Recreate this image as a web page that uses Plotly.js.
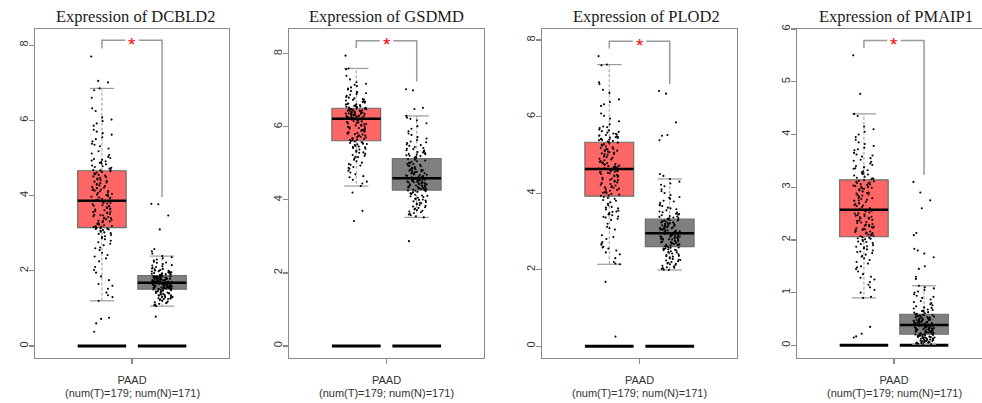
<!DOCTYPE html>
<html>
<head>
<meta charset="utf-8">
<script src="https://cdn.plot.ly/plotly-3.0.1.min.js"></script>
<style>
html,body{margin:0;padding:0;overflow:hidden;background:#fff;}
#chart{width:995px;height:403px;}
</style>
</head>
<body>
<div id="chart"></div>
<script>
// ---------- data ----------
const genes = ['DCBLD2', 'GSDMD', 'PLOD2', 'PMAIP1'];
const cancer = 'PAAD';
const numT = 179;
const numN = 171;

// box statistics (tumour / normal)
const tumorQ1  = [3.15, 5.62, 3.92, 2.06];
const tumorMed = [3.86, 6.22, 4.63, 2.57];
const tumorQ3  = [4.66, 6.51, 5.33, 3.14];
const tumorLo  = [1.20, 4.38, 2.14, 0.90];
const tumorHi  = [6.85, 7.60, 7.36, 4.39];

const normalQ1  = [1.51, 4.27, 2.60, 0.21];
const normalMed = [1.68, 4.59, 2.95, 0.385];
const normalQ3  = [1.87, 5.13, 3.32, 0.59];
const normalLo  = [1.06, 3.52, 1.99, 0.02];
const normalHi  = [2.39, 6.30, 4.37, 1.13];

// significance bracket levels
const bracketTop   = [8.13, 8.36, 7.97, 5.78];
const bracketLeft  = [7.91, 8.16, 7.78, 5.64];
const bracketRight = [3.96, 7.24, 6.85, 3.23];

// y tick values
const yTicks = [[0,2,4,6,8],[0,2,4,6,8],[0,2,4,6,8],[0,1,2,3,4,5,6]];

// sample points (read/estimated from the picture)
const dcbld2Tumor = [7.70,7.05,7.01,
6.85,6.80,6.60,6.32,6.25,6.08,6.02,5.98,5.92,5.86,5.75,5.70,5.66,5.62,5.55,5.50,5.44,5.38,5.35,5.31,5.25,5.18,5.12,5.08,5.03,5.00,4.97,4.95,4.93,4.91,4.89,4.87,4.85,4.83,4.80,4.78,4.76,4.74,4.72,4.70,4.68,4.67,
4.65,4.63,4.61,4.59,4.57,4.55,4.53,4.51,4.49,4.47,4.45,4.43,4.41,4.39,4.37,4.35,4.33,4.31,4.29,4.27,4.25,4.23,4.21,4.19,4.17,4.15,4.13,4.11,4.09,4.07,4.05,4.03,4.01,3.99,3.97,3.95,3.93,3.91,3.89,3.87,4.20,4.16,4.12,4.02,3.94,
3.85,3.83,3.81,3.79,3.77,3.75,3.73,3.71,3.69,3.67,3.65,3.63,3.61,3.59,3.57,3.55,3.53,3.51,3.49,3.47,3.45,3.43,3.41,3.39,3.37,3.35,3.33,3.31,3.29,3.27,3.25,3.23,3.21,3.19,3.17,3.16,3.80,3.72,3.64,3.56,3.48,3.40,3.32,3.24,3.18,
3.14,3.13,3.12,3.11,3.10,3.08,3.06,3.04,3.02,3.00,2.98,2.95,2.92,2.90,2.87,2.84,2.80,2.76,2.72,2.68,2.62,2.55,2.48,2.42,2.38,2.33,2.25,2.10,2.02,1.95,1.85,1.75,1.65,1.60,1.52,1.42,1.35,1.30,1.20,0.75,0.72,0.60,0.38,2.60];
const dcbld2Normal = [3.78,3.77,3.47,3.10,2.58,2.52,2.46,0.78,
2.39,2.36,2.33,2.30,2.27,2.24,2.21,2.18,2.15,2.12,2.10,2.08,2.06,2.04,2.02,2.00,1.99,1.98,1.97,1.96,1.95,1.94,1.93,1.92,1.91,1.90,1.89,1.88,2.22,2.14,2.05,2.01,1.96,1.93,1.90,
1.86,1.86,1.85,1.85,1.84,1.84,1.83,1.83,1.82,1.82,1.81,1.81,1.80,1.80,1.79,1.79,1.78,1.78,1.77,1.77,1.76,1.76,1.75,1.75,1.74,1.74,1.73,1.73,1.72,1.72,1.71,1.71,1.70,1.70,1.69,1.69,1.68,1.68,1.785,1.755,1.725,1.815,1.845,
1.67,1.67,1.66,1.66,1.65,1.65,1.64,1.64,1.63,1.63,1.62,1.62,1.61,1.61,1.60,1.60,1.59,1.59,1.58,1.58,1.57,1.57,1.56,1.56,1.55,1.55,1.54,1.54,1.53,1.53,1.52,1.52,1.51,1.51,1.675,1.645,1.615,1.585,1.555,1.525,1.635,1.575,1.545,
1.50,1.49,1.48,1.47,1.46,1.45,1.44,1.43,1.42,1.41,1.40,1.39,1.38,1.37,1.36,1.35,1.34,1.33,1.32,1.31,1.30,1.29,1.28,1.27,1.26,1.25,1.24,1.22,1.20,1.18,1.16,1.14,1.12,1.10,1.08,1.06,1.45,1.40,1.35,1.30,1.25,1.15];

const gsdmdTumor = [7.95,4.20,3.70,3.42,
7.60,7.58,7.40,7.30,7.22,7.18,7.12,7.08,7.05,7.02,6.98,6.95,6.92,6.90,6.88,6.85,6.82,6.80,6.78,6.76,6.74,6.72,6.70,6.68,6.66,6.64,6.62,6.61,6.60,6.59,6.58,6.57,6.56,6.55,6.54,6.53,6.52,6.75,6.69,6.63,7.15,
6.50,6.50,6.49,6.48,6.47,6.46,6.45,6.44,6.43,6.42,6.41,6.40,6.39,6.38,6.37,6.36,6.35,6.34,6.33,6.32,6.31,6.30,6.29,6.28,6.27,6.26,6.25,6.24,6.23,6.23,6.485,6.455,6.425,6.395,6.365,6.335,6.305,6.275,6.245,6.44,6.38,6.32,6.26,6.48,6.36,
6.21,6.19,6.17,6.15,6.13,6.11,6.09,6.07,6.05,6.03,6.01,5.99,5.97,5.95,5.93,5.91,5.89,5.87,5.85,5.83,5.81,5.79,5.77,5.75,5.73,5.71,5.69,5.67,5.65,5.63,6.20,6.16,6.12,6.08,6.04,6.00,5.96,5.92,5.88,5.84,5.80,5.76,5.72,5.68,5.64,
5.61,5.60,5.58,5.56,5.54,5.52,5.50,5.48,5.46,5.44,5.42,5.40,5.38,5.35,5.32,5.29,5.26,5.23,5.20,5.17,5.14,5.10,5.06,5.02,4.98,4.94,4.90,4.85,4.80,4.75,4.70,4.65,4.55,4.50,4.45,4.38,5.57,5.53,5.45,5.30,5.18,4.96,4.88,4.62];
const gsdmdNormal = [7.03,7.00,6.52,6.49,2.87,
6.30,6.25,6.22,6.18,6.10,6.02,5.95,5.88,5.82,5.78,5.72,5.68,5.64,5.60,5.56,5.52,5.48,5.45,5.42,5.39,5.36,5.33,5.30,5.28,5.26,5.24,5.22,5.20,5.18,5.16,5.14,5.50,5.40,5.31,5.21,5.58,5.35,5.25,
5.12,5.10,5.08,5.06,5.04,5.02,5.00,4.98,4.96,4.94,4.92,4.90,4.88,4.86,4.84,4.82,4.80,4.78,4.76,4.74,4.72,4.70,4.68,4.66,4.64,4.62,4.60,4.99,4.93,4.87,4.81,4.75,4.69,4.63,4.61,4.65,4.67,4.71,4.73,4.77,4.79,4.83,4.85,
4.58,4.57,4.56,4.55,4.54,4.53,4.52,4.51,4.50,4.49,4.48,4.47,4.46,4.45,4.44,4.43,4.42,4.41,4.40,4.39,4.38,4.37,4.36,4.35,4.34,4.33,4.32,4.31,4.30,4.29,4.28,4.27,4.575,4.545,4.515,4.485,4.455,4.425,4.395,4.365,4.335,4.305,4.285,
4.26,4.25,4.24,4.22,4.20,4.18,4.16,4.14,4.12,4.10,4.08,4.06,4.04,4.02,4.00,3.98,3.96,3.94,3.92,3.90,3.88,3.86,3.84,3.82,3.80,3.78,3.76,3.74,3.72,3.70,3.68,3.66,3.64,3.62,3.60,3.58,3.55,3.52,4.21,4.11,4.01,3.91];

const plod2Tumor = [7.58,1.68,0.25,
7.36,7.34,6.90,6.85,6.70,6.62,6.45,6.38,6.32,6.28,6.08,6.02,5.95,5.88,5.80,5.74,5.70,5.66,5.62,5.58,5.55,5.52,5.50,5.48,5.46,5.44,5.42,5.40,5.38,5.36,5.34,5.72,5.64,5.56,5.51,5.45,5.39,5.60,5.53,5.47,5.41,5.35,
5.32,5.30,5.28,5.26,5.24,5.22,5.20,5.18,5.16,5.14,5.12,5.10,5.08,5.06,5.04,5.02,5.00,4.98,4.96,4.94,4.92,4.90,4.88,4.86,4.84,4.82,4.80,4.78,4.76,4.74,4.72,4.70,4.68,4.66,4.64,5.15,5.11,5.07,5.03,4.79,4.75,4.71,4.67,4.65,4.69,
4.62,4.60,4.58,4.56,4.54,4.52,4.50,4.48,4.46,4.44,4.42,4.40,4.38,4.36,4.34,4.32,4.30,4.28,4.26,4.24,4.22,4.20,4.18,4.16,4.14,4.12,4.10,4.08,4.06,4.04,4.02,4.00,3.98,3.96,3.94,3.93,4.61,4.59,4.57,4.55,4.53,4.45,4.35,4.15,4.01,
3.90,3.88,3.85,3.82,3.80,3.76,3.72,3.68,3.64,3.60,3.57,3.54,3.51,3.48,3.45,3.42,3.39,3.36,3.33,3.30,3.20,3.12,3.08,3.05,2.90,2.85,2.80,2.72,2.65,2.60,2.55,2.50,2.45,2.40,2.30,2.20,2.16,2.14,3.62,3.52,3.44,3.38,2.68,2.58];
const plod2Normal = [6.67,6.60,5.85,5.52,5.50,5.38,4.50,4.45,
4.37,4.30,4.25,4.18,4.10,4.05,4.00,3.95,3.90,3.85,3.80,3.75,3.70,3.66,3.62,3.58,3.55,3.52,3.49,3.46,3.44,3.42,3.40,3.38,3.36,3.34,3.33,3.88,3.78,3.68,3.60,3.50,3.45,3.39,3.35,4.22,
3.31,3.30,3.29,3.28,3.27,3.26,3.25,3.24,3.23,3.22,3.21,3.20,3.19,3.18,3.17,3.16,3.15,3.14,3.13,3.12,3.11,3.10,3.09,3.08,3.07,3.06,3.05,3.04,3.03,3.02,3.01,3.00,2.99,2.98,2.97,2.96,2.955,3.285,3.215,3.145,3.075,3.005,2.965,
2.94,2.93,2.92,2.91,2.90,2.89,2.88,2.87,2.86,2.85,2.84,2.83,2.82,2.81,2.80,2.79,2.78,2.77,2.76,2.75,2.74,2.73,2.72,2.71,2.70,2.69,2.68,2.67,2.66,2.65,2.64,2.63,2.62,2.61,2.605,2.935,2.865,2.795,2.725,2.655,2.945,2.875,2.805,
2.59,2.58,2.57,2.56,2.55,2.54,2.53,2.52,2.51,2.50,2.48,2.46,2.44,2.42,2.40,2.38,2.36,2.34,2.32,2.30,2.28,2.26,2.24,2.22,2.20,2.18,2.16,2.14,2.12,2.10,2.08,2.06,2.04,2.02,2.00,1.99,2.45,2.35,2.25,2.15,2.05];

const pmaip1Tumor = [5.50,4.77,0.35,0.22,0.17,0.15,
4.39,4.35,4.15,4.10,4.05,4.00,3.95,3.90,3.85,3.82,3.78,3.75,3.72,3.70,3.65,3.62,3.58,3.55,3.52,3.50,3.48,3.45,3.42,3.40,3.38,3.35,3.32,3.30,3.28,3.26,3.24,3.22,3.20,3.18,3.16,3.15,3.60,3.36,3.25,3.17,
3.13,3.12,3.10,3.08,3.06,3.04,3.02,3.00,2.98,2.96,2.94,2.92,2.90,2.88,2.86,2.84,2.82,2.80,2.78,2.76,2.74,2.72,2.70,2.68,2.66,2.64,2.62,2.60,2.58,3.11,3.09,3.07,3.05,3.03,3.01,2.99,2.97,2.95,2.85,2.75,2.65,2.59,2.69,2.79,2.89,
2.56,2.54,2.52,2.50,2.48,2.46,2.44,2.42,2.40,2.38,2.36,2.34,2.32,2.30,2.28,2.26,2.24,2.22,2.20,2.18,2.16,2.14,2.12,2.10,2.08,2.07,2.55,2.45,2.41,2.37,2.33,2.29,2.25,2.21,2.17,2.13,2.09,2.11,2.15,2.19,2.23,2.27,2.43,2.47,2.51,
2.05,2.04,2.03,2.02,2.01,2.00,1.98,1.96,1.94,1.92,1.90,1.88,1.86,1.84,1.82,1.80,1.78,1.75,1.72,1.70,1.68,1.65,1.62,1.58,1.55,1.50,1.48,1.45,1.40,1.35,1.30,1.28,1.25,1.20,1.15,1.10,1.05,1.00,0.92,0.90,1.97,1.87,1.77];
const pmaip1Normal = [3.10,2.90,2.75,2.60,2.13,2.09,1.83,1.80,1.74,1.67,1.50,1.45,1.30,1.26,
1.13,1.10,1.08,1.05,1.02,1.00,0.97,0.94,0.90,0.87,0.84,0.82,0.80,0.78,0.76,0.74,0.72,0.70,0.68,0.66,0.65,0.64,0.63,0.62,0.61,0.60,0.92,0.71,0.67,
0.59,0.58,0.575,0.57,0.56,0.555,0.55,0.54,0.535,0.53,0.52,0.515,0.51,0.50,0.495,0.49,0.48,0.475,0.47,0.46,0.455,0.45,0.44,0.435,0.43,0.42,0.415,0.41,0.40,0.395,0.39,0.565,0.545,0.525,0.505,0.485,0.465,0.445,0.425,0.405,0.388,0.44,0.50,
0.38,0.375,0.37,0.365,0.36,0.355,0.35,0.345,0.34,0.335,0.33,0.325,0.32,0.315,0.31,0.305,0.30,0.295,0.29,0.285,0.28,0.275,0.27,0.265,0.26,0.255,0.25,0.245,0.24,0.235,0.23,0.225,0.22,0.215,0.21,0.37,0.35,0.33,0.31,0.29,0.27,0.25,0.23,
0.205,0.20,0.195,0.19,0.185,0.18,0.175,0.17,0.165,0.16,0.155,0.15,0.145,0.14,0.135,0.13,0.125,0.12,0.115,0.11,0.105,0.10,0.095,0.09,0.085,0.08,0.075,0.07,0.065,0.06,0.055,0.05,0.045,0.04,0.035,0.03,0.025,0.02,0.19,0.15,0.11,0.07];

const tumorPoints  = [dcbld2Tumor, gsdmdTumor, plod2Tumor, pmaip1Tumor];
const normalPoints = [dcbld2Normal, gsdmdNormal, plod2Normal, pmaip1Normal];

// ---------- layout helpers (styling / positions only) ----------
const W = 995, H = 403;
const framePx = [[35,229],[289,484],[542,737],[797,991]];
const titlePx = [136, 386, 646, 896];
const yRanges = [[-0.32,8.43],[-0.33,8.68],[-0.31,8.29],[-0.24,6.0]];
const frameTop = 29, frameBottom = 358;
const posT = 0.345, posN = 0.655, boxW = 0.25, halfW = boxW/2, capHalf = boxW/4;
const jitterHalf = 0.055;
const tumorFill = '#FF6666', normalFill = '#808080';
const frameColor = '#8a8a8a', greyLine = '#9a9a9a';

const traces = [];
const annotations = [];
const layout = {
  width: W, height: H,
  margin: {l:0, r:0, t:0, b:0},
  paper_bgcolor: '#fff', plot_bgcolor: '#fff',
  showlegend: false,
  annotations: annotations
};

// deterministic horizontal spread (display offset only)
function jitter(n) {
  const out = [];
  for (let i = 0; i < n; i++) {
    const f = (i * 0.7548776662 + i * i * 0.5698402910) % 1;
    out.push((f * 2 - 1) * jitterHalf);
  }
  return out;
}

for (let p = 0; p < 4; p++) {
  const sfx = p === 0 ? '' : String(p + 1);
  const xa = 'x' + sfx, ya = 'y' + sfx;
  layout['xaxis' + sfx] = {
    domain: [framePx[p][0] / W, framePx[p][1] / W],
    range: [0, 1], anchor: ya, fixedrange: true,
    showgrid: false, zeroline: false,
    showline: true, mirror: true, linecolor: frameColor, linewidth: 1.2,
    ticks: 'outside', ticklen: 5, tickcolor: frameColor, tickwidth: 1.2,
    tickvals: [0.5],
    ticktext: [cancer],
    ticklabelstandoff: 7,
    tickfont: {family: 'Liberation Sans, Arial, sans-serif', size: 11, color: '#333'}
  };
  layout['yaxis' + sfx] = {
    domain: [(H - frameBottom) / H, (H - frameTop) / H],
    range: yRanges[p], anchor: xa, fixedrange: true,
    showgrid: false, zeroline: false,
    showline: true, mirror: true, linecolor: frameColor, linewidth: 1.2,
    ticks: 'outside', ticklen: 5, tickcolor: frameColor, tickwidth: 1.2,
    tickvals: yTicks[p], ticktext: yTicks[p].map(String),
    tickangle: -90,
    ticklabelstandoff: -4,
    tickfont: {family: 'Liberation Sans, Arial, sans-serif', size: 11, color: '#333'}
  };

  // sample-size line under the category label
  annotations.push({xref:xa, yref:'paper', x:0.5, y:(H - 393) / H,
    xanchor:'center', yanchor:'middle', showarrow:false,
    text:'(num(T)=' + numT + '; num(N)=' + numN + ')',
    font:{family:'Liberation Sans, Arial, sans-serif', size:11, color:'#333'}});

  // zero placeholder bars (thick black)
  [posT, posN].forEach(c => {
    traces.push({type:'scatter', mode:'lines', xaxis:xa, yaxis:ya, hoverinfo:'skip',
      x:[c - halfW, c + halfW], y:[0, 0], line:{color:'#000', width:3}});
  });

  const groups = [
    {pos: posT, q1: tumorQ1[p], med: tumorMed[p], q3: tumorQ3[p], lo: tumorLo[p], hi: tumorHi[p], fill: tumorFill, pts: tumorPoints[p]},
    {pos: posN, q1: normalQ1[p], med: normalMed[p], q3: normalQ3[p], lo: normalLo[p], hi: normalHi[p], fill: normalFill, pts: normalPoints[p]}
  ];
  groups.forEach(g => {
    traces.push({type:'scatter', mode:'lines', xaxis:xa, yaxis:ya, hoverinfo:'skip',
      x:[g.pos, g.pos, null, g.pos, g.pos], y:[g.q3, g.hi, null, g.q1, g.lo],
      line:{color:greyLine, width:1, dash:'3px,2px'}});
    traces.push({type:'scatter', mode:'lines', xaxis:xa, yaxis:ya, hoverinfo:'skip',
      x:[g.pos - capHalf, g.pos + capHalf, null, g.pos - capHalf, g.pos + capHalf],
      y:[g.hi, g.hi, null, g.lo, g.lo],
      line:{color:greyLine, width:1.2}});
    traces.push({type:'box', xaxis:xa, yaxis:ya, hoverinfo:'skip',
      x:[g.pos], q1:[g.q1], median:[g.med], q3:[g.q3], lowerfence:[g.q1], upperfence:[g.q3],
      width: boxW, whiskerwidth: 0, boxpoints:false,
      fillcolor: g.fill, line:{color:'#6e6e6e', width:1.2}});
    traces.push({type:'scatter', mode:'lines', xaxis:xa, yaxis:ya, hoverinfo:'skip',
      x:[g.pos - halfW, g.pos + halfW], y:[g.med, g.med],
      line:{color:'#000', width:2.5}});
    const jx = jitter(g.pts.length);
    traces.push({type:'scatter', mode:'markers', xaxis:xa, yaxis:ya, hoverinfo:'skip',
      x: g.pts.map((v, i) => g.pos + jx[i]), y: g.pts,
      marker:{color:'#000', size:2.1, line:{width:0}}});
  });

  const gap = 0.035;
  traces.push({type:'scatter', mode:'lines', xaxis:xa, yaxis:ya, hoverinfo:'skip',
    x:[posT, posT, 0.5 - gap, null, 0.5 + gap, posN, posN],
    y:[bracketLeft[p], bracketTop[p], bracketTop[p], null, bracketTop[p], bracketTop[p], bracketRight[p]],
    line:{color:greyLine, width:1.5}});
  annotations.push({xref:xa, yref:ya, x:0.5, y:bracketTop[p], text:'*', showarrow:false,
    xanchor:'center', yanchor:'middle', yshift:-4,
    font:{family:'Liberation Sans, Arial, sans-serif', size:19, color:'#FF0000'}});

  annotations.push({xref:'paper', yref:'paper', x:titlePx[p] / W, y:(H - 17) / H,
    xanchor:'center', yanchor:'middle', showarrow:false,
    text:'Expression of ' + genes[p],
    font:{family:'Liberation Serif, Times New Roman, serif', size:16.5, color:'#1a1a1a'}});
}

Plotly.newPlot('chart', traces, layout, {staticPlot:true, displayModeBar:false});
</script>
</body>
</html>
